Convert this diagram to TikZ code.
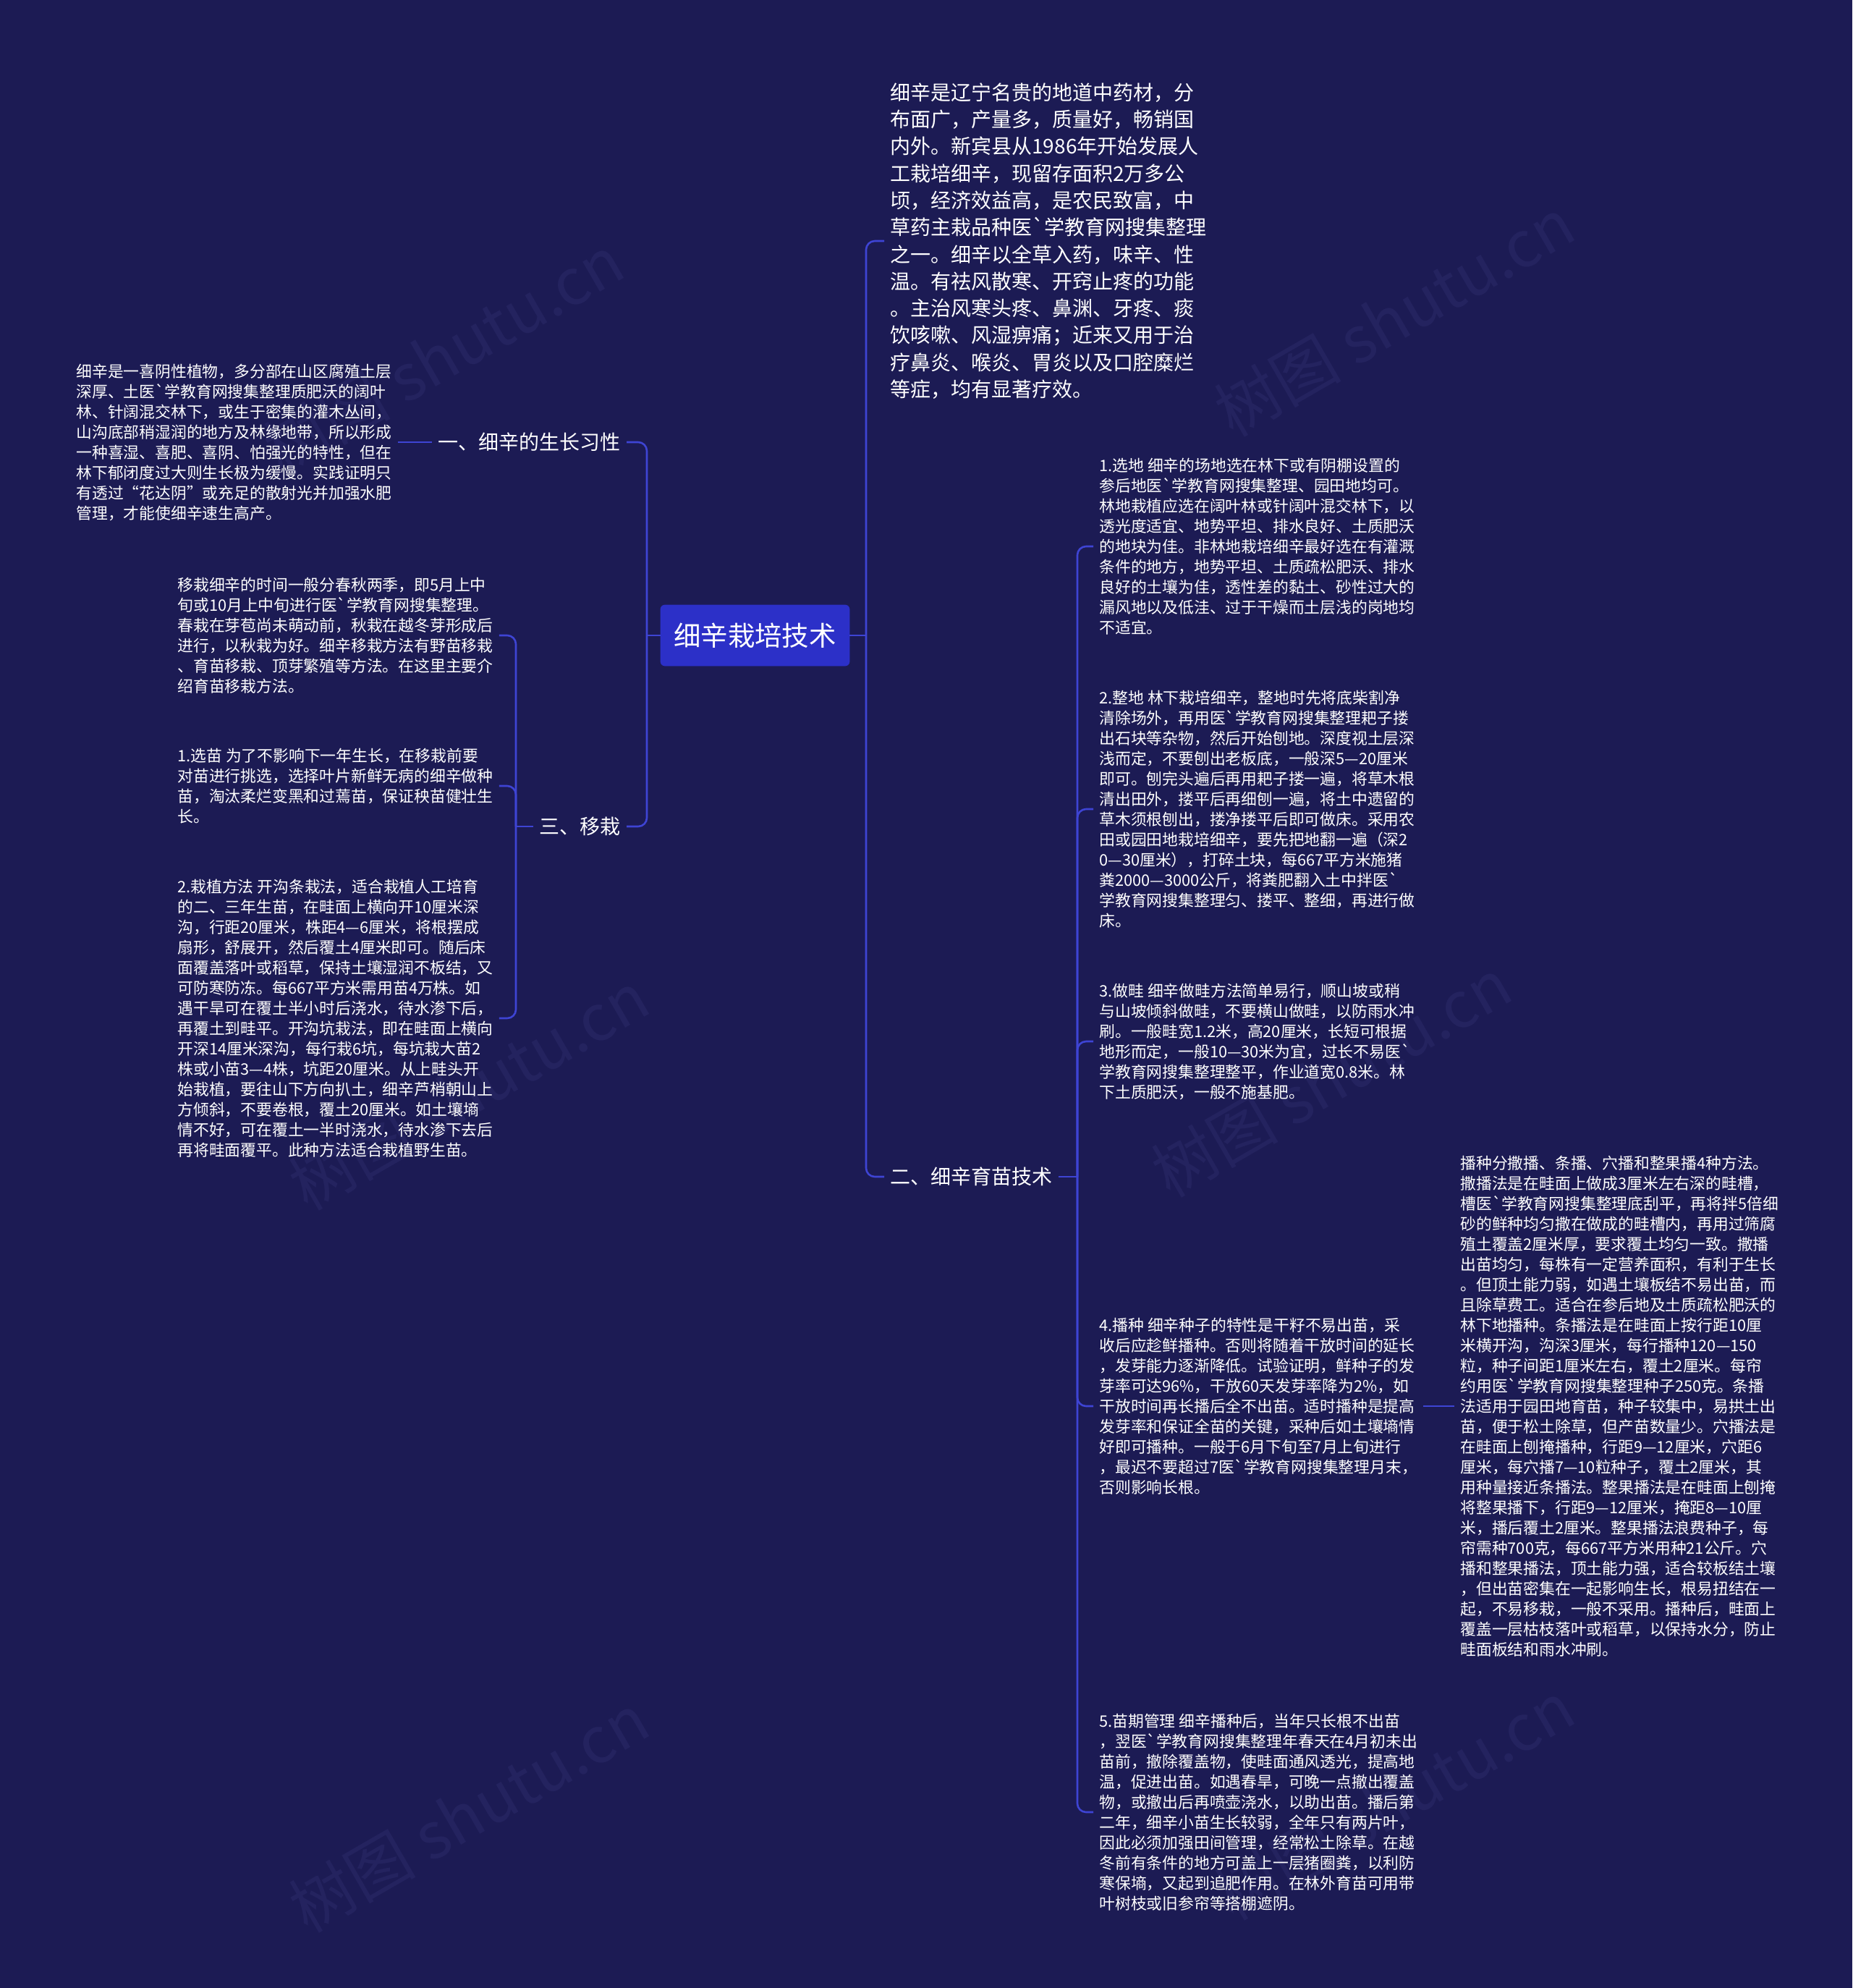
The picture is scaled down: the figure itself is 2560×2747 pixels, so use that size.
\documentclass[tikz,border=0pt]{standalone}
\usepackage{fontspec}
\newfontfamily\cjk{Noto Sans CJK SC}
\definecolor{bg}{RGB}{28,27,84}
\definecolor{ln}{RGB}{62,68,212}
\definecolor{cn}{RGB}{44,48,200}
\definecolor{wm}{RGB}{36,35,95}
\begin{document}
\begin{tikzpicture}[x=0.5pt,y=-0.5pt,
  small/.style={font=\cjk\fontsize{10.9pt}{14pt}\selectfont, text=white, align=left, anchor=west, inner xsep=4pt, inner ysep=2pt},
  big/.style={font=\cjk\fontsize{14pt}{18.65pt}\selectfont, text=white, align=left, anchor=west, inner xsep=4pt, inner ysep=2pt},
  lab/.style={font=\cjk\fontsize{14pt}{18pt}\selectfont, text=white, anchor=west, inner xsep=4pt, inner ysep=2pt},
  root/.style={font=\cjk\fontsize{18.7pt}{22pt}\selectfont, text=white, fill=cn, draw=cn, rounded corners=3pt, minimum width=130.5pt, minimum height=42pt, inner sep=0pt},
  conn/.style={draw=ln, line width=1.3pt, rounded corners=6pt},
  wmark/.style={font=\cjk\fontsize{44pt}{50pt}\selectfont, text=wm, rotate=30}]
\fill[bg] (0,0) rectangle (2560,2747);
\useasboundingbox (0,0) rectangle (2560,2747);
% watermarks
\node[wmark] (w1) at (613,490) {树图 shutu.cn};
\node[wmark] (w2) at (1927,438) {树图 shutu.cn};
\node[wmark] (w3) at (648,1507) {树图 shutu.cn};
\node[wmark] (w4) at (1840,1489) {树图 shutu.cn};
\node[wmark] (w5) at (648,2505) {树图 shutu.cn};
\node[wmark] (w6) at (1927,2488) {树图 shutu.cn};
% root
\node[root] (root) at (1043.5,878) {细辛栽培技术};
% right side
\node[big] (top) at (1222,333) {细辛是辽宁名贵的地道中药材，分\\布面广，产量多，质量好，畅销国\\内外。新宾县从1986年开始发展人\\工栽培细辛，现留存面积2万多公\\顷，经济效益高，是农民致富，中\\草药主栽品种医`学教育网搜集整理\\之一。细辛以全草入药，味辛、性\\温。有祛风散寒、开窍止疼的功能\\。主治风寒头疼、鼻渊、牙疼、痰\\饮咳嗽、风湿痹痛；近来又用于治\\疗鼻炎、喉炎、胃炎以及口腔糜烂\\等症，均有显著疗效。};
\node[lab] (lab2) at (1222,1626) {二、细辛育苗技术};
\node[small] (r1) at (1511,755) {1.选地 细辛的场地选在林下或有阴棚设置的\\参后地医`学教育网搜集整理、园田地均可。\\林地栽植应选在阔叶林或针阔叶混交林下，以\\透光度适宜、地势平坦、排水良好、土质肥沃\\的地块为佳。非林地栽培细辛最好选在有灌溉\\条件的地方，地势平坦、土质疏松肥沃、排水\\良好的土壤为佳，透性差的黏土、砂性过大的\\漏风地以及低洼、过于干燥而土层浅的岗地均\\不适宜。};
\node[small] (r2) at (1511,1118) {2.整地 林下栽培细辛，整地时先将底柴割净\\清除场外，再用医`学教育网搜集整理耙子搂\\出石块等杂物，然后开始刨地。深度视土层深\\浅而定，不要刨出老板底，一般深5—20厘米\\即可。刨完头遍后再用耙子搂一遍，将草木根\\清出田外，搂平后再细刨一遍，将土中遗留的\\草木须根刨出，搂净搂平后即可做床。采用农\\田或园田地栽培细辛，要先把地翻一遍（深2\\0—30厘米），打碎土块，每667平方米施猪\\粪2000—3000公斤，将粪肥翻入土中拌医`\\学教育网搜集整理匀、搂平、整细，再进行做\\床。};
\node[small] (r3) at (1511,1439) {3.做畦 细辛做畦方法简单易行，顺山坡或稍\\与山坡倾斜做畦，不要横山做畦，以防雨水冲\\刷。一般畦宽1.2米，高20厘米，长短可根据\\地形而定，一般10—30米为宜，过长不易医`\\学教育网搜集整理整平，作业道宽0.8米。林\\下土质肥沃，一般不施基肥。};
\node[small] (r4) at (1511,1943) {4.播种 细辛种子的特性是干籽不易出苗，采\\收后应趁鲜播种。否则将随着干放时间的延长\\，发芽能力逐渐降低。试验证明，鲜种子的发\\芽率可达96\%，干放60天发芽率降为2\%，如\\干放时间再长播后全不出苗。适时播种是提高\\发芽率和保证全苗的关键，采种后如土壤墒情\\好即可播种。一般于6月下旬至7月上旬进行\\，最迟不要超过7医`学教育网搜集整理月末，\\否则影响长根。};
\node[small] (r5) at (1511,2504) {5.苗期管理 细辛播种后，当年只长根不出苗\\，翌医`学教育网搜集整理年春天在4月初未出\\苗前，撤除覆盖物，使畦面通风透光，提高地\\温，促进出苗。如遇春旱，可晚一点撤出覆盖\\物，或撤出后再喷壶浇水，以助出苗。播后第\\二年，细辛小苗生长较弱，全年只有两片叶，\\因此必须加强田间管理，经常松土除草。在越\\冬前有条件的地方可盖上一层猪圈粪，以利防\\寒保墒，又起到追肥作用。在林外育苗可用带\\叶树枝或旧参帘等搭棚遮阴。};
\node[small] (rr) at (2010,1943) {播种分撒播、条播、穴播和整果播4种方法。\\撒播法是在畦面上做成3厘米左右深的畦槽，\\槽医`学教育网搜集整理底刮平，再将拌5倍细\\砂的鲜种均匀撒在做成的畦槽内，再用过筛腐\\殖土覆盖2厘米厚，要求覆土均匀一致。撒播\\出苗均匀，每株有一定营养面积，有利于生长\\。但顶土能力弱，如遇土壤板结不易出苗，而\\且除草费工。适合在参后地及土质疏松肥沃的\\林下地播种。条播法是在畦面上按行距10厘\\米横开沟，沟深3厘米，每行播种120—150\\粒，种子间距1厘米左右，覆土2厘米。每帘\\约用医`学教育网搜集整理种子250克。条播\\法适用于园田地育苗，种子较集中，易拱土出\\苗，便于松土除草，但产苗数量少。穴播法是\\在畦面上刨掩播种，行距9—12厘米，穴距6\\厘米，每穴播7—10粒种子，覆土2厘米，其\\用种量接近条播法。整果播法是在畦面上刨掩\\将整果播下，行距9—12厘米，掩距8—10厘\\米，播后覆土2厘米。整果播法浪费种子，每\\帘需种700克，每667平方米用种21公斤。穴\\播和整果播法，顶土能力强，适合较板结土壤\\，但出苗密集在一起影响生长，根易扭结在一\\起，不易移栽，一般不采用。播种后，畦面上\\覆盖一层枯枝落叶或稻草，以保持水分，防止\\畦面板结和雨水冲刷。};
% left side
\node[lab, anchor=east] (lab1) at (866,611) {一、细辛的生长习性};
\node[small] (p1) at (97,611) {细辛是一喜阴性植物，多分部在山区腐殖土层\\深厚、土医`学教育网搜集整理质肥沃的阔叶\\林、针阔混交林下，或生于密集的灌木丛间，\\山沟底部稍湿润的地方及林缘地带，所以形成\\一种喜湿、喜肥、喜阴、怕强光的特性，但在\\林下郁闭度过大则生长极为缓慢。实践证明只\\有透过“花达阴”或充足的散射光并加强水肥\\管理，才能使细辛速生高产。};
\node[lab, anchor=east] (lab3) at (866,1142) {三、移栽};
\node[small] (m0) at (237,878) {移栽细辛的时间一般分春秋两季，即5月上中\\旬或10月上中旬进行医`学教育网搜集整理。\\春栽在芽苞尚未萌动前，秋栽在越冬芽形成后\\进行，以秋栽为好。细辛移栽方法有野苗移栽\\、育苗移栽、顶芽繁殖等方法。在这里主要介\\绍育苗移栽方法。};
\node[small] (m1) at (237,1086) {1.选苗 为了不影响下一年生长，在移栽前要\\对苗进行挑选，选择叶片新鲜无病的细辛做种\\苗，淘汰柔烂变黑和过蔫苗，保证秧苗健壮生\\长。};
\node[small] (m2) at (237,1407) {2.栽植方法 开沟条栽法，适合栽植人工培育\\的二、三年生苗，在畦面上横向开10厘米深\\沟，行距20厘米，株距4—6厘米，将根摆成\\扇形，舒展开，然后覆土4厘米即可。随后床\\面覆盖落叶或稻草，保持土壤湿润不板结，又\\可防寒防冻。每667平方米需用苗4万株。如\\遇干旱可在覆土半小时后浇水，待水渗下后，\\再覆土到畦平。开沟坑栽法，即在畦面上横向\\开深14厘米深沟，每行栽6坑，每坑栽大苗2\\株或小苗3—4株，坑距20厘米。从上畦头开\\始栽植，要往山下方向扒土，细辛芦梢朝山上\\方倾斜，不要卷根，覆土20厘米。如土壤墒\\情不好，可在覆土一半时浇水，待水渗下去后\\再将畦面覆平。此种方法适合栽植野生苗。};
% trunk coordinates
\coordinate (tR) at (1197,878);
\coordinate (tR2) at (1489,1626);
\coordinate (tL) at (894,878);
\coordinate (tL2) at (713,1142);
% connectors right
\draw[conn] (root.east) -- (tR);
\draw[conn] (tR) |- (top.west);
\draw[conn] (tR) |- (lab2.west);
\draw[conn] (lab2.east) -- (tR2);
\draw[conn] (tR2) |- (r1.west);
\draw[conn] (tR2) |- (r2.west);
\draw[conn] (tR2) |- (r3.west);
\draw[conn] (tR2) |- (r4.west);
\draw[conn] (tR2) |- (r5.west);
\draw[conn] (r4.east) -- (rr.west);
% connectors left
\draw[conn] (root.west) -- (tL);
\draw[conn] (tL) |- (lab1.east);
\draw[conn] (tL) |- (lab3.east);
\draw[conn] (lab1.west) -- (p1.east);
\draw[conn] (lab3.west) -- (tL2);
\draw[conn] (tL2) |- (m0.east);
\draw[conn] (tL2) |- (m1.east);
\draw[conn] (tL2) |- (m2.east);
\end{tikzpicture}
\end{document}
